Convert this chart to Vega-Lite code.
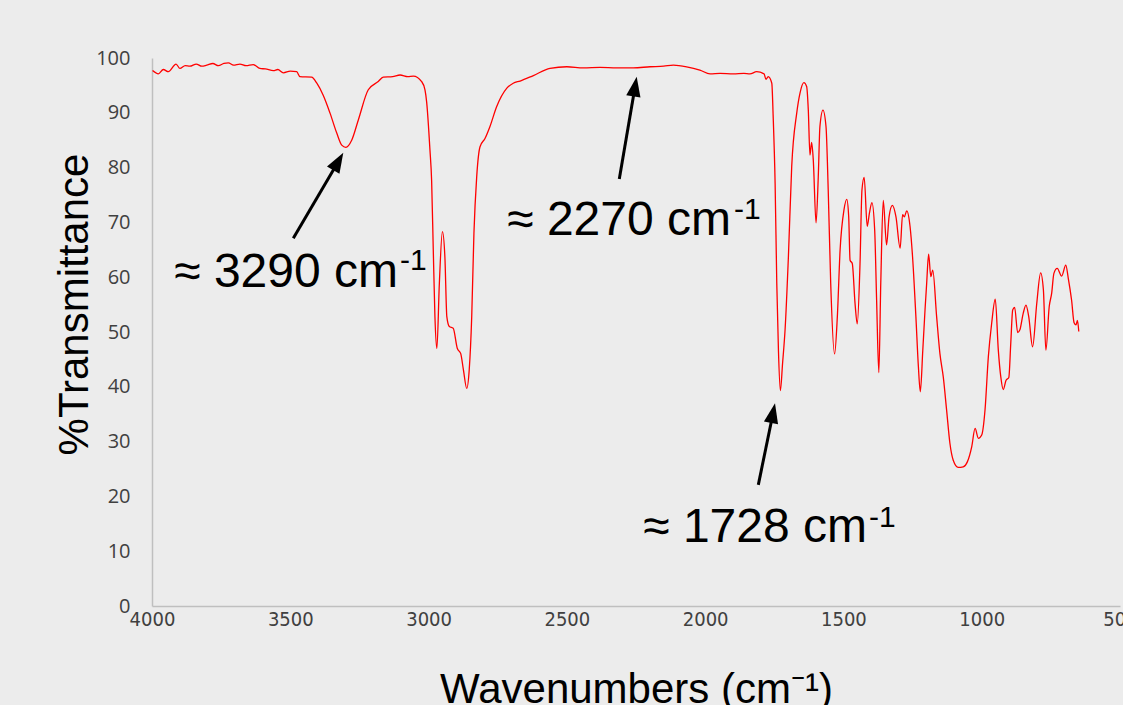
{
  "$schema": "https://vega.github.io/schema/vega-lite/v6.json",
  "width": 968,
  "height": 548,
  "autosize": {"type": "none"},
  "padding": {"left": 152, "top": 58, "right": 3, "bottom": 99},
  "background": "#ececec",
  "config": {"view": {"stroke": null}},
  "datasets": {
    "spectrum": [
      {"wavenumber": 3998, "t": 97.7}, {"wavenumber": 3977, "t": 97.1}, {"wavenumber": 3959, "t": 97.9}, {"wavenumber": 3941, "t": 97.5},
      {"wavenumber": 3913, "t": 98.9}, {"wavenumber": 3899, "t": 98.1}, {"wavenumber": 3880, "t": 98.6}, {"wavenumber": 3863, "t": 98.5},
      {"wavenumber": 3840, "t": 98.9}, {"wavenumber": 3820, "t": 98.5}, {"wavenumber": 3802, "t": 98.7}, {"wavenumber": 3780, "t": 99.0},
      {"wavenumber": 3760, "t": 98.6}, {"wavenumber": 3740, "t": 99.0}, {"wavenumber": 3724, "t": 99.1}, {"wavenumber": 3705, "t": 98.7},
      {"wavenumber": 3682, "t": 98.9}, {"wavenumber": 3660, "t": 98.6}, {"wavenumber": 3634, "t": 98.8}, {"wavenumber": 3610, "t": 98.1},
      {"wavenumber": 3590, "t": 98.0}, {"wavenumber": 3561, "t": 97.7}, {"wavenumber": 3545, "t": 97.9}, {"wavenumber": 3525, "t": 97.3},
      {"wavenumber": 3500, "t": 97.6}, {"wavenumber": 3477, "t": 97.5}, {"wavenumber": 3465, "t": 96.6}, {"wavenumber": 3423, "t": 96.5},
      {"wavenumber": 3404, "t": 95.4}, {"wavenumber": 3381, "t": 93.2}, {"wavenumber": 3356, "t": 89.9}, {"wavenumber": 3332, "t": 86.3},
      {"wavenumber": 3314, "t": 84.1}, {"wavenumber": 3299, "t": 83.7}, {"wavenumber": 3278, "t": 85.0}, {"wavenumber": 3254, "t": 88.7},
      {"wavenumber": 3218, "t": 94.2}, {"wavenumber": 3182, "t": 95.7}, {"wavenumber": 3164, "t": 96.5}, {"wavenumber": 3130, "t": 96.6},
      {"wavenumber": 3103, "t": 96.9}, {"wavenumber": 3075, "t": 96.6}, {"wavenumber": 3055, "t": 96.7}, {"wavenumber": 3025, "t": 95.7},
      {"wavenumber": 3013, "t": 94.2}, {"wavenumber": 3007, "t": 92.0}, {"wavenumber": 2995, "t": 83.2}, {"wavenumber": 2989, "t": 77.7},
      {"wavenumber": 2983, "t": 65.0}, {"wavenumber": 2977, "t": 52.8}, {"wavenumber": 2970, "t": 47.0}, {"wavenumber": 2961, "t": 58.9},
      {"wavenumber": 2950, "t": 68.3}, {"wavenumber": 2941, "t": 63.7}, {"wavenumber": 2934, "t": 52.8}, {"wavenumber": 2925, "t": 51.0},
      {"wavenumber": 2911, "t": 50.7}, {"wavenumber": 2896, "t": 47.0}, {"wavenumber": 2884, "t": 46.1}, {"wavenumber": 2874, "t": 43.1},
      {"wavenumber": 2862, "t": 39.7}, {"wavenumber": 2853, "t": 43.1}, {"wavenumber": 2844, "t": 52.8}, {"wavenumber": 2836, "t": 68.0},
      {"wavenumber": 2826, "t": 78.3}, {"wavenumber": 2814, "t": 83.8}, {"wavenumber": 2796, "t": 85.3}, {"wavenumber": 2778, "t": 87.5},
      {"wavenumber": 2754, "t": 91.1}, {"wavenumber": 2717, "t": 94.5}, {"wavenumber": 2694, "t": 95.4}, {"wavenumber": 2669, "t": 95.8},
      {"wavenumber": 2621, "t": 96.8}, {"wavenumber": 2561, "t": 98.1}, {"wavenumber": 2500, "t": 98.4}, {"wavenumber": 2440, "t": 98.2},
      {"wavenumber": 2380, "t": 98.3}, {"wavenumber": 2320, "t": 98.2}, {"wavenumber": 2260, "t": 98.2}, {"wavenumber": 2199, "t": 98.4},
      {"wavenumber": 2150, "t": 98.5}, {"wavenumber": 2115, "t": 98.7}, {"wavenumber": 2067, "t": 98.4}, {"wavenumber": 2019, "t": 97.8},
      {"wavenumber": 1982, "t": 97.1}, {"wavenumber": 1946, "t": 97.2}, {"wavenumber": 1898, "t": 97.1}, {"wavenumber": 1860, "t": 97.2},
      {"wavenumber": 1838, "t": 97.1}, {"wavenumber": 1814, "t": 97.5}, {"wavenumber": 1787, "t": 97.1}, {"wavenumber": 1780, "t": 96.1},
      {"wavenumber": 1772, "t": 96.6}, {"wavenumber": 1759, "t": 95.4}, {"wavenumber": 1754, "t": 89.3}, {"wavenumber": 1747, "t": 77.1},
      {"wavenumber": 1741, "t": 58.9}, {"wavenumber": 1735, "t": 46.7}, {"wavenumber": 1728, "t": 39.3}, {"wavenumber": 1720, "t": 44.3},
      {"wavenumber": 1711, "t": 50.4}, {"wavenumber": 1699, "t": 63.7}, {"wavenumber": 1687, "t": 80.2}, {"wavenumber": 1669, "t": 89.9},
      {"wavenumber": 1657, "t": 93.6}, {"wavenumber": 1643, "t": 95.5}, {"wavenumber": 1633, "t": 94.8}, {"wavenumber": 1627, "t": 90.5},
      {"wavenumber": 1621, "t": 82.3}, {"wavenumber": 1615, "t": 84.6}, {"wavenumber": 1609, "t": 81.4}, {"wavenumber": 1599, "t": 69.9},
      {"wavenumber": 1591, "t": 78.3}, {"wavenumber": 1585, "t": 87.5}, {"wavenumber": 1574, "t": 90.5}, {"wavenumber": 1563, "t": 87.5},
      {"wavenumber": 1555, "t": 75.9}, {"wavenumber": 1546, "t": 58.9}, {"wavenumber": 1532, "t": 46.0}, {"wavenumber": 1522, "t": 52.8},
      {"wavenumber": 1512, "t": 65.0}, {"wavenumber": 1498, "t": 72.3}, {"wavenumber": 1488, "t": 74.2}, {"wavenumber": 1481, "t": 71.1},
      {"wavenumber": 1476, "t": 63.1}, {"wavenumber": 1468, "t": 62.5}, {"wavenumber": 1458, "t": 55.2}, {"wavenumber": 1450, "t": 51.5},
      {"wavenumber": 1440, "t": 62.5}, {"wavenumber": 1433, "t": 75.9}, {"wavenumber": 1425, "t": 78.2}, {"wavenumber": 1414, "t": 69.3},
      {"wavenumber": 1406, "t": 71.7}, {"wavenumber": 1397, "t": 73.6}, {"wavenumber": 1387, "t": 68.6}, {"wavenumber": 1380, "t": 55.8},
      {"wavenumber": 1372, "t": 42.6}, {"wavenumber": 1365, "t": 58.9}, {"wavenumber": 1356, "t": 74.0}, {"wavenumber": 1344, "t": 65.9},
      {"wavenumber": 1335, "t": 71.0}, {"wavenumber": 1323, "t": 73.1}, {"wavenumber": 1310, "t": 71.0}, {"wavenumber": 1295, "t": 65.3},
      {"wavenumber": 1286, "t": 71.4}, {"wavenumber": 1280, "t": 71.0}, {"wavenumber": 1271, "t": 72.1}, {"wavenumber": 1259, "t": 69.2},
      {"wavenumber": 1250, "t": 63.7}, {"wavenumber": 1238, "t": 52.8}, {"wavenumber": 1229, "t": 43.7}, {"wavenumber": 1222, "t": 39.1},
      {"wavenumber": 1213, "t": 46.7}, {"wavenumber": 1205, "t": 54.0}, {"wavenumber": 1199, "t": 58.9}, {"wavenumber": 1192, "t": 64.2},
      {"wavenumber": 1184, "t": 60.1}, {"wavenumber": 1177, "t": 61.3}, {"wavenumber": 1163, "t": 52.8}, {"wavenumber": 1151, "t": 46.0},
      {"wavenumber": 1139, "t": 41.8}, {"wavenumber": 1127, "t": 35.8}, {"wavenumber": 1115, "t": 29.7}, {"wavenumber": 1103, "t": 26.6},
      {"wavenumber": 1085, "t": 25.3}, {"wavenumber": 1067, "t": 25.4}, {"wavenumber": 1052, "t": 26.3}, {"wavenumber": 1036, "t": 29.1},
      {"wavenumber": 1024, "t": 32.4}, {"wavenumber": 1012, "t": 30.6}, {"wavenumber": 1000, "t": 31.2}, {"wavenumber": 988, "t": 35.8},
      {"wavenumber": 976, "t": 45.5}, {"wavenumber": 964, "t": 51.6}, {"wavenumber": 951, "t": 56.0}, {"wavenumber": 940, "t": 46.7},
      {"wavenumber": 931, "t": 41.8}, {"wavenumber": 922, "t": 39.5}, {"wavenumber": 912, "t": 41.2}, {"wavenumber": 902, "t": 41.7},
      {"wavenumber": 895, "t": 47.9}, {"wavenumber": 888, "t": 54.0}, {"wavenumber": 881, "t": 54.5}, {"wavenumber": 870, "t": 49.9},
      {"wavenumber": 862, "t": 50.4}, {"wavenumber": 850, "t": 53.4}, {"wavenumber": 840, "t": 54.9}, {"wavenumber": 830, "t": 52.8},
      {"wavenumber": 816, "t": 47.3}, {"wavenumber": 801, "t": 55.2}, {"wavenumber": 787, "t": 60.8}, {"wavenumber": 777, "t": 57.7},
      {"wavenumber": 768, "t": 46.7}, {"wavenumber": 756, "t": 54.6}, {"wavenumber": 747, "t": 57.1}, {"wavenumber": 739, "t": 60.7},
      {"wavenumber": 727, "t": 61.6}, {"wavenumber": 711, "t": 60.2}, {"wavenumber": 696, "t": 62.2}, {"wavenumber": 687, "t": 59.8},
      {"wavenumber": 675, "t": 55.8}, {"wavenumber": 666, "t": 51.7}, {"wavenumber": 659, "t": 51.3}, {"wavenumber": 654, "t": 52.1},
      {"wavenumber": 649, "t": 50.1}
    ],
    "labels": [
      {"wavenumber": 3110.5, "t": 58.2, "text": "≈ 3290 cm"},
      {"wavenumber": 1906.5, "t": 67.7, "text": "≈ 2270 cm"},
      {"wavenumber": 1414.8, "t": 11.7, "text": "≈ 1728 cm"}
    ],
    "sups": [
      {"wavenumber": 3103, "t": 61.3, "text": "-1"},
      {"wavenumber": 1895.6, "t": 70.6, "text": "-1"},
      {"wavenumber": 1407.5, "t": 14.5, "text": "-1"}
    ],
    "arrowLines": [
      {"wavenumber": 3489.1, "t": 67.1, "wavenumber2": 3330, "t2": 80.8},
      {"wavenumber": 2310.4, "t": 77.9, "wavenumber2": 2254.7, "t2": 94.4},
      {"wavenumber": 1807.8, "t": 22.1, "wavenumber2": 1756, "t2": 34.8}
    ],
    "arrowHeads": [
      {"wavenumber": 3308.3, "t": 82.7, "angle": 30.3},
      {"wavenumber": 2247.5, "t": 96.6, "angle": 9.6},
      {"wavenumber": 1747.4, "t": 37.0, "angle": 11.6}
    ]
  },
  "layer": [
    {
      "data": {"name": "spectrum"},
      "mark": {"type": "line", "color": "#ff0000", "strokeWidth": 1.3, "interpolate": "monotone"},
      "encoding": {
        "x": {
          "field": "wavenumber", "type": "quantitative",
          "scale": {"domain": [500, 4000], "reverse": true, "nice": false, "zero": false},
          "axis": {
            "values": [4000, 3500, 3000, 2500, 2000, 1500, 1000, 500],
            "format": "d",
            "title": "Wavenumbers (cm⁻¹)",
            "grid": false, "ticks": false,
            "domainColor": "#bfbfbf", "domainWidth": 1.5,
            "labelFont": "Liberation Sans Narrow, DejaVu Sans Condensed, sans-serif",
            "labelFontSize": 20, "labelColor": "#404040", "labelPadding": 3,
            "labelFlush": false, "labelOverlap": false,
            "titleFont": "Liberation Sans", "titleFontSize": 42, "titleFontWeight": "normal",
            "titleColor": "#000000", "titleY": 96, "titleBaseline": "alphabetic"
          }
        },
        "y": {
          "field": "t", "type": "quantitative",
          "scale": {"domain": [0, 100], "nice": false, "zero": true},
          "axis": {
            "values": [0, 10, 20, 30, 40, 50, 60, 70, 80, 90, 100],
            "title": "%Transmittance",
            "grid": false, "ticks": false,
            "domainColor": "#bfbfbf", "domainWidth": 1.5,
            "labelFont": "Open Sans", "labelFontSize": 20, "labelColor": "#404040", "labelPadding": 22,
            "labelOverlap": false,
            "titleFont": "Liberation Sans", "titleFontSize": 42, "titleFontWeight": "normal",
            "titleColor": "#000000", "titleX": -65, "titleY": 246, "titleAngle": -90,
            "titleBaseline": "alphabetic", "titleAlign": "center"
          }
        }
      }
    },
    {
      "data": {"name": "arrowLines"},
      "mark": {"type": "rule", "color": "#000000", "strokeWidth": 3},
      "encoding": {
        "x": {"field": "wavenumber", "type": "quantitative"},
        "y": {"field": "t", "type": "quantitative"},
        "x2": {"field": "wavenumber2"},
        "y2": {"field": "t2"}
      }
    },
    {
      "data": {"name": "arrowHeads"},
      "mark": {"type": "point", "shape": "M0,0L-0.36,1L0.36,1Z", "filled": true, "color": "#000000", "opacity": 1, "size": 1600},
      "encoding": {
        "x": {"field": "wavenumber", "type": "quantitative"},
        "y": {"field": "t", "type": "quantitative"},
        "angle": {"field": "angle", "type": "quantitative", "scale": null}
      }
    },
    {
      "data": {"name": "labels"},
      "mark": {"type": "text", "align": "right", "baseline": "alphabetic", "font": "Liberation Sans", "fontSize": 48, "color": "#000000"},
      "encoding": {
        "x": {"field": "wavenumber", "type": "quantitative"},
        "y": {"field": "t", "type": "quantitative"},
        "text": {"field": "text"}
      }
    },
    {
      "data": {"name": "sups"},
      "mark": {"type": "text", "align": "left", "baseline": "alphabetic", "font": "Liberation Sans", "fontSize": 30, "color": "#000000"},
      "encoding": {
        "x": {"field": "wavenumber", "type": "quantitative"},
        "y": {"field": "t", "type": "quantitative"},
        "text": {"field": "text"}
      }
    }
  ]
}
